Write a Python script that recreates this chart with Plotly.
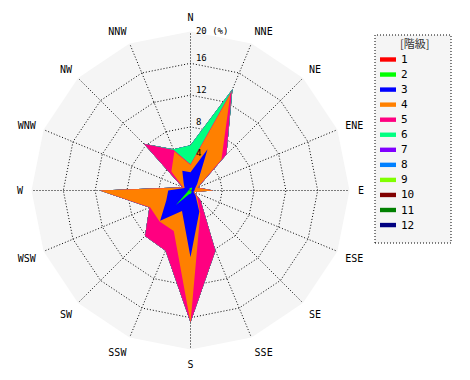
import numpy as np
import plotly.graph_objects as go

directions = ["N", "NNE", "NE", "ENE", "E", "ESE", "SE", "SSE",
              "S", "SSW", "SW", "WSW", "W", "WNW", "NW", "NNW"]
classes = ["1", "2", "3", "4", "5", "6", "7", "8", "9", "10", "11", "12"]
class_colors = ["#FF0000", "#00FF00", "#0000FF", "#FF8000", "#FF0080", "#00FF80",
                "#8000FF", "#0080FF", "#80FF00", "#800000", "#008000", "#000080"]

# frequency (%) per class, by direction (N, NNE, ... NNW)
c1 = [0.1, 0.1, 0.1, 0.0, 0.0, 0.0, 0.1, 0.1, 0.1, 0.1, 0.2, 0.1, 0.1, 0.0, 0.1, 0.1]
c2 = [0.2, 0.3, 0.2, 0.1, 0.1, 0.1, 0.1, 0.2, 0.3, 0.4, 2.4, 0.3, 0.2, 0.1, 0.1, 0.2]
c3 = [2.0, 5.2, 0.9, 0.5, 0.4, 0.3, 0.7, 2.6, 8.0, 2.3, 2.8, 2.9, 2.5, 0.7, 1.0, 2.4]
c4 = [0.9, 7.5, 4.3, 0.3, 2.4, 0.1, 0.3, 0.3, 8.2, 2.7, 0.1, 2.2, 8.6, 0.2, 2.2, 2.6]
c5 = [0.1, 0.5, 0.9, 0.1, 0.0, 0.0, 0.6, 5.0, 0.0, 2.7, 2.6, 0.1, 0.0, 0.1, 4.9, 0.2]
c6 = [2.4, 0.2, 0.0, 0.0, 0.0, 0.0, 0.0, 0.0, 0.0, 0.0, 0.0, 0.0, 0.0, 0.0, 0.0, 0.1]
c7 = [0.0] * 16
c8 = [0.0] * 16
c9 = [0.0] * 16
c10 = [0.0] * 16
c11 = [0.0] * 16
c12 = [0.0] * 16

radial_ticks = [0, 4, 8, 12, 16, 20]
radial_ticktext = ["0", "4", "8", "12", "16", "20 (%)"]
legend_title = "[階級]"

per_class = np.array([c1, c2, c3, c4, c5, c6, c7, c8, c9, c10, c11, c12])
cumulative = np.cumsum(per_class, axis=0)

fig = go.Figure()
theta_closed = directions + [directions[0]]
for i in range(len(classes) - 1, -1, -1):
    r = list(cumulative[i]) + [cumulative[i][0]]
    fig.add_trace(go.Scatterpolar(
        r=r, theta=theta_closed, mode="lines", fill="toself",
        fillcolor=class_colors[i], line=dict(color=class_colors[i], width=0),
        name=classes[i], showlegend=False, hoverinfo="skip"))

font_mono = "DejaVu Sans Mono"

# radial tick labels, placed next to the N spoke
label_pos = ["top right"] * (len(radial_ticks) - 1) + ["middle right"]
fig.add_trace(go.Scatterpolar(
    r=radial_ticks, theta=[directions[0]] * len(radial_ticks), mode="text",
    text=["\u00a0" + t for t in radial_ticktext], textposition=label_pos,
    textfont=dict(family=font_mono, size=9, color="black"),
    showlegend=False, hoverinfo="skip", cliponaxis=False))

W, H = 470, 380
cx, cy, rad = 190.5, 190.5, 159.0
dot = "1px,2px"

fig.update_layout(
    width=W, height=H,
    margin=dict(l=0, r=0, t=0, b=0),
    paper_bgcolor="white",
    showlegend=False,
    polar=dict(
        domain=dict(x=[(cx - rad) / W, (cx + rad) / W],
                    y=[1 - (cy + rad) / H, 1 - (cy - rad) / H]),
        bgcolor="#F5F5F5",
        gridshape="linear",
        angularaxis=dict(
            type="category", categoryarray=directions,
            rotation=90, direction="clockwise",
            showline=False, ticks="outside", ticklen=6, tickcolor="rgba(0,0,0,0)",
            showgrid=True, gridcolor="black", gridwidth=1, griddash=dot,
            tickfont=dict(family=font_mono, size=10, color="black"),
        ),
        radialaxis=dict(
            range=[0, 20], tickvals=radial_ticks,
            angle=90, showline=False, ticks="", showticklabels=False,
            showgrid=True, gridcolor="black", gridwidth=1, griddash=dot,
        ),
    ),
)

# legend box
lx0, lx1, ly0, ly1 = 375, 451, 35, 243
fig.add_shape(type="rect", xref="paper", yref="paper",
              x0=lx0 / W, x1=lx1 / W, y0=1 - ly1 / H, y1=1 - ly0 / H,
              line=dict(color="black", width=1, dash=dot), fillcolor="#F5F5F5",
              layer="below")
fig.add_annotation(x=414 / W, y=1 - 43.5 / H, xref="paper", yref="paper",
                   text=legend_title, showarrow=False, xanchor="center", yanchor="middle",
                   font=dict(family="Noto Sans CJK JP", size=11, color="#333333"))
for i, name in enumerate(classes):
    yc = 59.5 + 15.05 * i
    fig.add_shape(type="rect", xref="paper", yref="paper",
                  x0=380 / W, x1=396 / W, y0=1 - (yc + 2.2) / H, y1=1 - (yc - 2.2) / H,
                  line=dict(width=0), fillcolor=class_colors[i])
    fig.add_annotation(x=398.5 / W, y=1 - yc / H, xref="paper", yref="paper",
                       text=name, showarrow=False, xanchor="left", yanchor="middle",
                       font=dict(family=font_mono, size=11, color="black"))

fig.write_html("out.html", config={"displayModeBar": False},
               post_script="document.body.style.margin='0';")
